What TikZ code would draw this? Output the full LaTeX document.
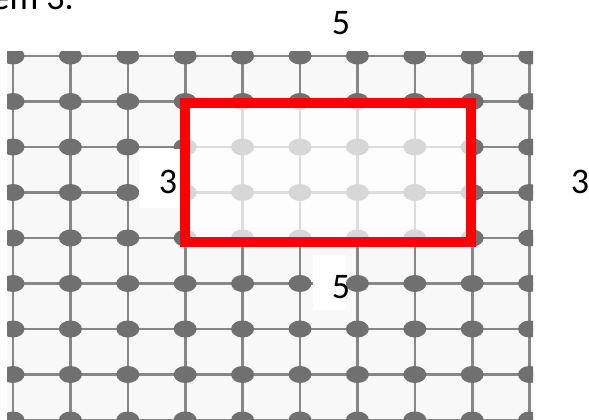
\documentclass[tikz,border=0pt]{standalone}
\usepackage{fontspec}
\setmainfont{Carlito}
\begin{document}
\begin{tikzpicture}[x=1pt,y=-1pt,
  gridline/.style={line width=2.6pt,color=gridgray},
  griddot/.style={fill=dotgray},
  lbl/.style={inner sep=0pt,font=\fontsize{36}{42}\selectfont},
  labelbg/.style={fill=white,draw=none},
  redbox/.style={draw=red,line width=10pt,line join=miter}]
\definecolor{gridgray}{RGB}{135,135,135}
\definecolor{dotgray}{RGB}{112,112,112}
\definecolor{gridbg}{RGB}{248,248,248}
\useasboundingbox (0,0) rectangle (589,420);
% grid picture
\begin{scope}
\clip (7,52) rectangle (533,420);
\fill[gridbg] (7,52) rectangle (533,420);
\foreach \i in {0,...,9} {\draw[gridline] ({13+57.4*\i},40) -- ({13+57.4*\i},430);}
\foreach \j in {0,...,8} {\draw[gridline] (0,{56+45.5*\j}) -- (540,{56+45.5*\j});}
\foreach \i in {0,...,9} {\foreach \j in {0,...,8} {
  \fill[griddot] ({13+57.4*\i},{56+45.5*\j}) ellipse [x radius=11.5, y radius=8.5];}}
\end{scope}
% faded interior and red frame
\fill[white,opacity=0.72] (185,103) rectangle (471,242);
\draw[redbox] (185,103) rectangle (471,242);
% white label backgrounds
\fill[labelbg] (139,149) rectangle (180,208);
\fill[labelbg] (313,255) rectangle (346,310);
% labels
\node[lbl,anchor=base east] (cap) at (74,10) {em 3.};
\node[lbl] (top) at (341,23) {5};
\node[lbl] (left) at (168,182) {3};
\node[lbl] (right) at (580,182) {3};
\node[lbl] (bottom) at (341,287) {5};
\end{tikzpicture}
\end{document}
